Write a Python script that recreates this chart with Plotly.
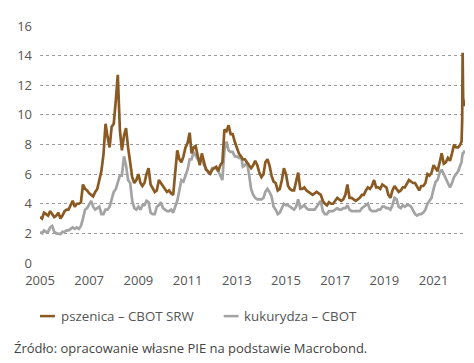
import pandas as pd
import plotly.graph_objects as go

# Monthly values (USD/bushel), Jan 2005 .. Feb 2022
wheat = [
    3.1, 3.0, 3.4, 3.3, 3.2, 3.5, 3.3, 3.1, 3.2, 3.4, 3.0, 3.2,   # 2005
    3.5, 3.6, 3.6, 3.9, 4.2, 3.8, 4.0, 4.0, 4.1, 5.3, 5.0, 4.9,   # 2006
    4.7, 4.6, 4.5, 4.8, 5.0, 5.6, 6.2, 7.3, 9.4, 8.5, 7.8, 9.2,   # 2007
    9.4, 11.0, 12.7, 9.0, 7.6, 8.6, 9.1, 7.8, 6.8, 5.8, 5.4, 5.6,  # 2008
    6.0, 5.4, 5.2, 5.4, 6.0, 6.4, 5.3, 5.0, 4.8, 4.9, 5.6, 5.4,   # 2009
    5.2, 5.0, 4.8, 4.9, 4.7, 4.6, 5.9, 7.6, 7.0, 6.8, 7.2, 7.8,   # 2010
    8.1, 8.8, 7.4, 7.8, 7.9, 7.2, 6.6, 7.4, 6.8, 6.3, 6.2, 6.0,   # 2011
    6.3, 6.4, 6.5, 6.2, 6.6, 6.8, 9.0, 8.9, 9.3, 8.7, 8.7, 8.2,   # 2012
    7.8, 7.4, 7.2, 7.0, 7.0, 6.8, 6.6, 6.4, 6.6, 6.9, 6.6, 6.1,   # 2013
    5.8, 6.0, 6.8, 7.0, 6.6, 5.9, 5.5, 5.4, 4.9, 5.0, 5.6, 6.4,   # 2014
    6.0, 5.2, 5.0, 4.9, 4.9, 5.6, 6.1, 5.0, 5.0, 5.1, 4.9, 4.8,   # 2015
    4.7, 4.6, 4.7, 4.8, 4.7, 4.6, 4.2, 4.0, 3.9, 4.1, 4.0, 4.0,   # 2016
    4.2, 4.4, 4.3, 4.2, 4.3, 4.6, 5.3, 4.4, 4.4, 4.3, 4.2, 4.3,   # 2017
    4.4, 4.6, 4.6, 4.9, 5.1, 5.0, 5.2, 5.6, 5.1, 5.1, 5.0, 5.3,   # 2018
    5.2, 5.1, 4.6, 4.4, 4.9, 5.2, 5.0, 4.8, 4.9, 5.1, 5.1, 5.4,   # 2019
    5.6, 5.5, 5.4, 5.4, 5.1, 4.9, 5.2, 5.2, 5.4, 6.0, 5.9, 6.1,   # 2020
    6.6, 6.4, 6.2, 6.8, 7.4, 6.7, 6.8, 7.1, 6.9, 7.4, 8.0, 7.8,   # 2021
    7.8, 8.0,                                                     # 2022
]
corn = [
    2.1, 2.0, 2.2, 2.1, 2.1, 2.4, 2.5, 2.1, 2.0, 2.0, 1.95, 2.1,  # 2005
    2.1, 2.2, 2.2, 2.3, 2.4, 2.3, 2.4, 2.3, 2.5, 3.0, 3.6, 3.7,   # 2006
    4.0, 4.2, 3.8, 3.6, 3.7, 3.8, 3.3, 3.3, 3.6, 3.6, 3.8, 4.4,   # 2007
    4.8, 5.0, 5.5, 5.9, 5.9, 7.2, 6.6, 5.6, 5.4, 4.2, 3.7, 3.6,   # 2008
    3.8, 3.6, 3.9, 3.9, 4.2, 4.1, 3.4, 3.3, 3.3, 3.8, 3.9, 4.1,   # 2009
    3.7, 3.6, 3.5, 3.5, 3.6, 3.4, 3.8, 4.2, 4.9, 5.6, 5.5, 5.9,   # 2010
    6.3, 7.0, 7.0, 7.5, 7.2, 7.0, 6.8, 7.2, 6.6, 6.4, 6.1, 6.0,   # 2011
    6.4, 6.4, 6.4, 6.2, 5.9, 5.6, 7.6, 8.2, 7.6, 7.5, 7.5, 7.2,   # 2012
    7.2, 7.1, 7.3, 6.5, 6.6, 6.8, 6.0, 5.0, 4.6, 4.4, 4.3, 4.3,   # 2013
    4.3, 4.4, 4.8, 5.0, 4.8, 4.5, 3.8, 3.6, 3.3, 3.4, 3.7, 4.0,   # 2014
    3.9, 3.9, 3.8, 3.7, 3.6, 3.8, 4.3, 3.7, 3.8, 3.9, 3.7, 3.6,   # 2015
    3.6, 3.6, 3.6, 3.8, 4.0, 4.2, 3.5, 3.3, 3.3, 3.5, 3.5, 3.5,   # 2016
    3.6, 3.7, 3.6, 3.6, 3.7, 3.7, 3.9, 3.6, 3.5, 3.5, 3.5, 3.5,   # 2017
    3.5, 3.7, 3.8, 3.9, 4.0, 3.6, 3.5, 3.5, 3.5, 3.6, 3.6, 3.8,   # 2018
    3.8, 3.7, 3.7, 3.6, 3.9, 4.4, 4.3, 3.8, 3.7, 3.9, 3.8, 3.9,   # 2019
    3.9, 3.8, 3.5, 3.3, 3.2, 3.3, 3.3, 3.4, 3.6, 4.0, 4.2, 4.4,   # 2020
    5.0, 5.5, 5.6, 6.1, 6.3, 6.0, 5.7, 5.5, 5.1, 5.4, 5.8, 6.0,   # 2021
    6.2, 6.6,                                                     # 2022
]
# Finer detail around the March 2022 spike
tail_dates = ["2022-02-20", "2022-03-01", "2022-03-08", "2022-03-15", "2022-03-25", "2022-04-08"]
wheat_tail = [8.2, 9.6, 14.2, 11.2, 10.6, 11.0]
corn_tail = [6.8, 7.2, 7.5, 7.5, 7.4, 7.6]

tick_years = ["2005", "2007", "2009", "2011", "2013", "2015", "2017", "2019", "2021"]
y_ticks = [0, 2, 4, 6, 8, 10, 12, 14, 16]

name_wheat = "pszenica – CBOT SRW"
name_corn = "kukurydza – CBOT"
source_text = "Źródło: opracowanie własne PIE na podstawie Macrobond."

dates = [d.strftime("%Y-%m-%d") for d in pd.date_range("2005-01-01", periods=len(wheat), freq="MS")] + tail_dates
wheat_all = wheat + wheat_tail
corn_all = corn + corn_tail

BROWN = "#8a5a22"
GRAY = "#a3a3a3"
TXT = "#555555"
FONT = "Open Sans"

fig = go.Figure()
fig.add_trace(go.Scatter(x=dates, y=corn_all, mode="lines", name=name_corn,
                         line=dict(color=GRAY, width=2.7), showlegend=False))
fig.add_trace(go.Scatter(x=dates, y=wheat_all, mode="lines", name=name_wheat,
                         line=dict(color=BROWN, width=2.7), showlegend=False))

# page has an 8px body margin, so the figure is placed at (8, 8)
fig.update_layout(
    width=466, height=355,
    margin=dict(l=29, r=9, t=14, b=100),
    paper_bgcolor="white", plot_bgcolor="white",
    font=dict(family=FONT, color=TXT, size=13),
    xaxis=dict(
        range=["2005-01-01", "2022-04-12"],
        tickvals=[f"{y}-01-01" for y in tick_years],
        ticktext=tick_years,
        showgrid=False, zeroline=False, showline=False,
        ticks="", ticklabelstandoff=8,
        tickfont=dict(size=13, color=TXT),
    ),
    yaxis=dict(
        range=[0, 16],
        tickvals=y_ticks,
        ticktext=[str(v) for v in y_ticks],
        showgrid=True, gridcolor="#9a9a9a", griddash="dot", gridwidth=1,
        zeroline=False, showline=False, ticks="",
        ticklabelstandoff=7,
        tickfont=dict(size=13, color=TXT),
    ),
)

# Manual legend (short line markers, as in the original); args are page pixels
def px_x(p):
    return (p - 37) / 428.0

def px_y(p):
    return (263 - p) / 241.0

fig.add_shape(type="line", xref="paper", yref="paper",
              x0=px_x(37), x1=px_x(52), y0=px_y(317), y1=px_y(317),
              line=dict(color=BROWN, width=2.5))
fig.add_annotation(xref="paper", yref="paper", x=px_x(56), y=px_y(317),
                   text=name_wheat, showarrow=False, xanchor="left", yanchor="middle",
                   font=dict(size=13.3, color=TXT, family=FONT))
fig.add_shape(type="line", xref="paper", yref="paper",
              x0=px_x(222), x1=px_x(237), y0=px_y(317), y1=px_y(317),
              line=dict(color=GRAY, width=2.5))
fig.add_annotation(xref="paper", yref="paper", x=px_x(240), y=px_y(317),
                   text=name_corn, showarrow=False, xanchor="left", yanchor="middle",
                   font=dict(size=13.3, color=TXT, family=FONT))
fig.add_annotation(xref="paper", yref="paper", x=px_x(9), y=px_y(349),
                   text=source_text, showarrow=False, xanchor="left", yanchor="middle",
                   font=dict(size=13, color="#444444", family=FONT))

fig.write_html("out.html")
